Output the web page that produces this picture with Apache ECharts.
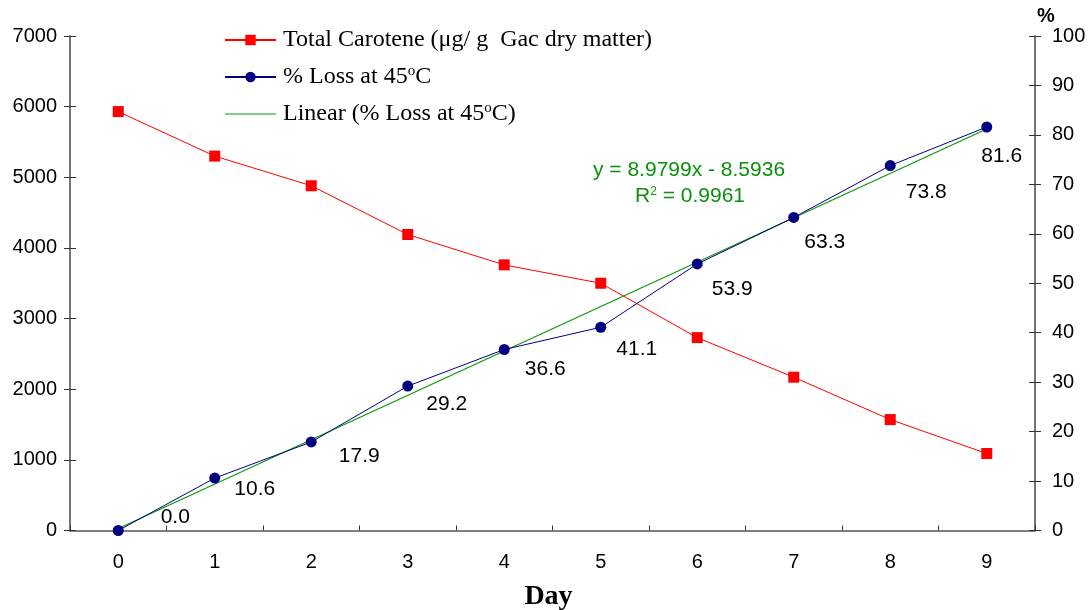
<!DOCTYPE html>
<html>
<head>
<meta charset="utf-8">
<script src="https://cdn.jsdelivr.net/npm/echarts@6/dist/echarts.min.js"></script>
<style>
  html, body { margin: 0; padding: 0; background: #fff; }
  #chart { width: 1091px; height: 610px; }
</style>
</head>
<body>
<div id="chart"></div>
<script>
// 数据
const days = ['0', '1', '2', '3', '4', '5', '6', '7', '8', '9'];
const carotene = [5930, 5300, 4880, 4190, 3760, 3500, 2730, 2170, 1570, 1090];
const lossPct = [0.0, 10.6, 17.9, 29.2, 36.6, 41.1, 53.9, 63.3, 73.8, 81.6];
// 趋势线两端 (y = 8.9799x - 8.5936)
const trendDays = [0, 9];
const trendValues = [0.4, 81.2];
const leftTicks = [0, 7000, 1000];
const rightTicks = [0, 100, 10];

// 标签偏移 (相对数据点中心)
const labelOffsets = [[57, -13], [40, 11], [48, 14], [39, 18], [41, 20], [36, 22], [35, 25], [31, 25], [36, 27], [15, 29]];

const chart = echarts.init(document.getElementById('chart'));

const lossData = lossPct.map(function (v, i) {
    return { value: v, label: { offset: labelOffsets[i] } };
});
const trendData = trendDays.map(function (d, i) { return [d, trendValues[i]]; });

const axisFont = { fontFamily: 'Liberation Sans, Arial', fontSize: 20, color: '#000' };
const tickLine = { color: '#333', width: 1 };
const hiddenLine = { show: true, lineStyle: { color: '#000', opacity: 0 } };
const trendColor = '#0a9a0a';

const option = {
    backgroundColor: '#fff',
    animation: false,
    grid: { left: 70, right: 56, top: 36, bottom: 79.5, outerBoundsMode: 'none', containLabel: false },
    legend: {
        orient: 'vertical',
        left: 219,
        top: 22,
        itemWidth: 51,
        itemHeight: 13,
        itemGap: 11,
        data: [
            { name: 'Total Carotene (μg/ g  Gac dry matter)' },
            { name: '% Loss at 45°C' },
            // 趋势线图例只画一条细线
            { name: 'Linear (% Loss at 45°C)', icon: 'path://M0,0 h51 v1.2 h-51 z', itemStyle: { color: trendColor, borderWidth: 0 } }
        ],
        formatter: function (name) {
            return name.replace('°', '{sup|o}');
        },
        textStyle: {
            fontFamily: 'Liberation Serif, Times New Roman',
            fontSize: 24,
            lineHeight: 26,
            color: '#000',
            padding: [0, 0, 0, 2],
            rich: {
                sup: { fontFamily: 'Liberation Serif', fontSize: 15, verticalAlign: 'top', lineHeight: 26, color: '#000' }
            }
        }
    },
    graphic: [
        {
            type: 'text', left: 593, top: 160,
            style: { text: 'y = 8.9799x - 8.5936', fill: '#0a900a', font: '21px Liberation Sans' }
        },
        {
            type: 'text', left: 635, top: 186,
            style: {
                text: 'R{s|2} = 0.9961', fill: '#0a900a', font: '21px Liberation Sans',
                rich: { s: { fontSize: 12, verticalAlign: 'top', fill: '#0a900a', fontFamily: 'Liberation Sans' } }
            }
        }
    ],
    xAxis: [
        {
            type: 'category',
            data: days,
            name: 'Day',
            nameLocation: 'middle',
            nameGap: 52,
            nameTextStyle: { fontFamily: 'Liberation Serif, Times New Roman', fontSize: 28, fontWeight: 'bold', color: '#000', padding: [0, 8, 0, 0] },
            axisLine: { lineStyle: { color: '#808080', width: 2 } },
            axisTick: { length: 6, lineStyle: tickLine },
            axisLabel: Object.assign({ margin: 22 }, axisFont),
            splitLine: { show: false }
        },
        {
            type: 'category',
            data: days,
            position: 'bottom',
            axisLine: hiddenLine,
            axisTick: { show: true, inside: true, length: 5, lineStyle: tickLine },
            axisLabel: { show: false },
            splitLine: { show: false }
        }
    ],
    yAxis: [
        {
            type: 'value',
            min: leftTicks[0], max: leftTicks[1], interval: leftTicks[2],
            position: 'left',
            axisLine: { show: true, lineStyle: { color: '#444', width: 1.5 } },
            axisTick: { show: true, length: 6, lineStyle: tickLine },
            axisLabel: Object.assign({ margin: 13, formatter: function (v) { return String(v); } }, axisFont),
            splitLine: { show: false }
        },
        {
            type: 'value',
            min: rightTicks[0], max: rightTicks[1], interval: rightTicks[2],
            position: 'right',
            name: '%',
            nameGap: 8,
            nameTextStyle: { fontFamily: 'Liberation Sans, Arial', fontSize: 20, fontWeight: 'bold', color: '#000', padding: [0, 0, 0, 22] },
            axisLine: { show: true, lineStyle: { color: '#444', width: 1.5 } },
            axisTick: { show: true, length: 6, lineStyle: tickLine },
            axisLabel: Object.assign({ margin: 17 }, axisFont),
            splitLine: { show: false }
        },
        {
            type: 'value',
            min: leftTicks[0], max: leftTicks[1], interval: leftTicks[2],
            position: 'left',
            axisLine: hiddenLine,
            axisTick: { show: true, inside: true, length: 6, lineStyle: tickLine },
            axisLabel: { show: false },
            splitLine: { show: false }
        },
        {
            type: 'value',
            min: rightTicks[0], max: rightTicks[1], interval: rightTicks[2],
            position: 'right',
            axisLine: hiddenLine,
            axisTick: { show: true, inside: true, length: 6, lineStyle: tickLine },
            axisLabel: { show: false },
            splitLine: { show: false }
        }
    ],
    series: [
        {
            name: 'Total Carotene (μg/ g  Gac dry matter)',
            type: 'line',
            yAxisIndex: 0,
            data: carotene,
            symbol: 'rect',
            symbolSize: 11,
            lineStyle: { color: '#ff0000', width: 1 },
            itemStyle: { color: '#ff0000' },
            z: 3
        },
        {
            name: 'Linear (% Loss at 45°C)',
            type: 'line',
            yAxisIndex: 1,
            data: trendData,
            showSymbol: false,
            lineStyle: { color: trendColor, width: 1.2 },
            itemStyle: { color: trendColor },
            z: 4
        },
        {
            name: '% Loss at 45°C',
            type: 'line',
            yAxisIndex: 1,
            data: lossData,
            symbol: 'circle',
            symbolSize: 11,
            lineStyle: { color: '#000080', width: 1 },
            itemStyle: { color: '#000080' },
            label: {
                show: true,
                position: 'inside',
                fontFamily: 'Liberation Sans, Arial',
                fontSize: 21,
                color: '#000',
                formatter: function (p) { return p.value.toFixed(1); }
            },
            z: 5
        },
        // 空系列: 仅用于让内侧刻度轴生效
        { type: 'line', xAxisIndex: 1, yAxisIndex: 2, data: [], silent: true },
        { type: 'line', xAxisIndex: 1, yAxisIndex: 3, data: [], silent: true }
    ]
};

chart.setOption(option);

window.addEventListener('resize', function () {
    chart.resize();
});
</script>
</body>
</html>
